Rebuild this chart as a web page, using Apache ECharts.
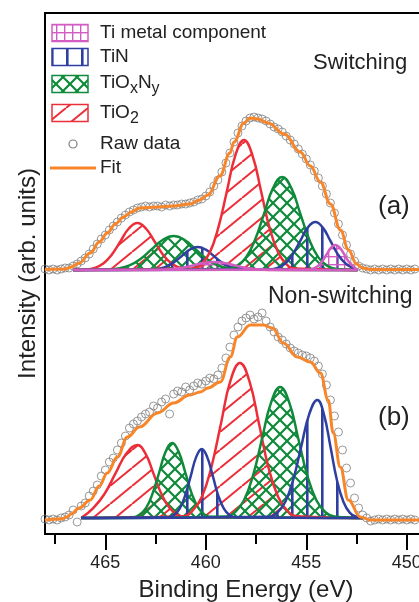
<!DOCTYPE html>
<html>
<head>
<meta charset="utf-8">
<script src="https://cdn.jsdelivr.net/npm/echarts@6/dist/echarts.min.js"></script>
<style>html,body{margin:0;padding:0;background:#fff;}#c{width:419px;height:602px;}</style>
</head>
<body>
<div id="c"></div>
<script>
// ---------- DATA ----------
const majorTicks = [450, 455, 460, 465];
const minorTicks = [452.5, 457.5, 462.5, 467.5];
const legendNames = ['Ti metal component', 'TiN', 'TiOxNy', 'TiO2', 'Raw data', 'Fit'];
const panelLabels = ['Switching', '(a)', 'Non-switching', '(b)'];

const rawEnergy = [468,467.8,467.6,467.4,467.2,467,466.8,466.6,466.4,466.2,466,465.8,465.6,465.4,465.2,465,464.8,464.6,464.4,464.2,464,463.8,463.6,463.4,463.2,463,462.8,462.6,462.4,462.2,462,461.8,461.6,461.4,461.2,461,460.8,460.6,460.4,460.2,460,459.8,459.6,459.4,459.2,459,458.8,458.6,458.4,458.2,458,457.8,457.6,457.4,457.2,457,456.8,456.6,456.4,456.2,456,455.8,455.6,455.4,455.2,455,454.8,454.6,454.4,454.2,454,453.8,453.6,453.4,453.2,453,452.8,452.6,452.4,452.2,452,451.8,451.6,451.4,451.2,451,450.8,450.6,450.4,450.2,450,449.8,449.6];
const rawA = [1,0,1,0,1,2,2,4,6,9, 12,16,21,26,31,35,40,44,48,52, 55,58,60,62,63,64,63,64,64,63, 65,64,65,65,66,66,67,68,70,71, 74,78,84,90,98,107,117,128,137,144, 149,152,153,152,151,149,146,143,141,138, 134,130,126,121,116,111,105,99,92,84, 76,67,57,46,35,25,16,9,4,2, 1,0,1,0,1,0,1,0,1,0, 1,0,1];
const rawB = [-1,-2,-1,-2,0,1,3,8,-4,12, 15,22,27,33,42,48,56,60,68,75, 82,90,94,97,101,104,106,112,110,116, 119,104,124,127,126,131,128,132,135,134, 137,140,139,143,150,160,171,183,191,197, 200,203,199,201,205,197,191,186,181,178, 174,170,167,165,163,162,160,157,152,144, 133,118,102,86,68,50,35,20,10,3, 0,-3,-2,-1,-2,-1,-2,-1,-2,-1, -2,-1,-2];

const fitA = [[468,0.5],[467,1],[466.7,3],[466.3,7],[465.75,17],[465.3,28],[464.9,37],[464.5,46],[464.1,53],[463.7,58],[463.3,62],[462.4,63],[461.6,64],[460.8,66],[460.3,70],[459.9,75],[459.3,94],[458.8,117],[458.6,128],[458.1,147],[457.8,152],[457.4,151],[456.9,147],[456.1,136],[455.3,118],[454.8,104],[454.3,88],[453.8,66],[453.3,40],[452.9,20],[452.5,6],[452.2,2],[451.8,0.5],[448,0.5]];
const fitB = [[468,-2],[467.2,-1],[466.9,1],[466.7,4],[466.3,10],[465.75,18],[465.3,32],[464.9,45],[464.4,61],[463.9,81],[463.3,91],[462.4,105],[461.6,115],[460.8,123],[460.27,126],[459.9,130],[459.28,136],[458.78,161],[458.43,181],[457.79,193],[457.14,193],[456.69,190],[456.14,175],[455.45,161],[454.8,156],[454.3,145],[453.91,118],[453.66,85],[453.31,51],[452.91,18],[452.31,1],[451.8,-2],[448,-2]];

// Panel (a) components
const tio2A1 = [[466.6,0],[465.95,0.5],[465.53,2.1],[465.1,6.4],[464.68,15.3],[464.25,28.5],[463.83,41.5],[463.4,47],[462.98,41.5],[462.55,28.5],[462.13,15.3],[461.7,6.4],[461.28,2.1],[460.85,0.5],[452.45,0]];
const tioxnyA1 = [[466.6,0],[464.9,0.4],[464.35,1.5],[463.8,4.6],[463.25,11],[462.7,20.6],[462.15,30],[461.6,34],[461.05,30],[460.5,20.6],[459.95,11],[459.4,4.6],[458.85,1.5],[458.3,0.4],[452.45,0]];
const tinA1 = [[466.6,0],[462.8,0.3],[462.4,1],[462,3.1],[461.6,7.5],[461.2,13.9],[460.8,20.3],[460.4,23],[460,20.3],[459.6,13.9],[459.2,7.5],[458.8,3.1],[458.4,1],[458,0.3],[452.45,0]];
const tiA1 = [[466.6,0],[462.6,0.1],[462.1,0.35],[461.6,1.1],[461.1,2.6],[460.6,4.9],[460.1,7.1],[459.6,8],[459.1,7.1],[458.6,4.9],[458.1,2.6],[457.6,1.1],[457.1,0.35],[456.6,0.1],[452.45,0]];
const tio2A2 = [[466.6,0],[460.65,1.4],[460.23,5.7],[459.8,17.6],[459.38,42.2],[458.95,78.8],[458.53,114.7],[458.1,130],[457.68,114.7],[457.25,78.8],[456.83,42.2],[456.4,17.6],[455.98,5.7],[455.55,1.4],[452.45,0]];
const tioxnyA2 = [[466.6,0],[458.9,1],[458.45,4.1],[458,12.6],[457.55,30.2],[457.1,56.4],[456.65,82.1],[456.2,93],[455.75,82.1],[455.3,56.4],[454.85,30.2],[454.4,12.6],[453.95,4.1],[453.5,1],[452.45,0]];
const tinA2 = [[466.6,0],[456.8,0.5],[456.43,2.1],[456.05,6.5],[455.68,15.6],[455.3,29.1],[454.93,42.4],[454.55,48],[454.18,42.4],[453.8,29.1],[453.43,15.6],[453.05,6.5],[452.68,2.1],[452.45,0]];
const tiA2 = [[466.6,0],[454.9,0.3],[454.68,1.1],[454.45,3.4],[454.23,8.1],[454,15.2],[453.78,22.1],[453.55,25],[453.33,22.1],[453.1,15.2],[452.88,8.1],[452.65,3.4],[452.45,0]];

// Panel (b) components
const tio2B1 = [[466.2,0],[465.6,9.9],[465.05,23.7],[464.5,44.3],[463.95,64.4],[463.4,73],[463,64.4],[462.6,44.3],[462.2,23.7],[461.8,9.9],[461.4,3.2],[461,0.8],[452.2,0]];
const tioxnyB1 = [[466.2,0],[463.62,0.8],[463.3,3.3],[462.97,10.1],[462.65,24.4],[462.32,45.5],[462,66.2],[461.67,75],[461.35,66.2],[461.02,45.5],[460.7,24.4],[460.37,10.1],[460.05,3.3],[459.72,0.8],[452.2,0]];
const tinB1 = [[466.2,0],[461.85,0.8],[461.58,3],[461.3,9.3],[461.03,22.4],[460.75,41.8],[460.48,60.9],[460.2,69],[459.93,60.9],[459.65,41.8],[459.38,22.4],[459.1,9.3],[458.83,3],[458.55,0.8],[452.2,0]];
const tio2B2 = [[466.2,0],[461.15,1.7],[460.68,6.8],[460.2,21],[459.73,50.3],[459.25,94],[458.78,136.8],[458.3,155],[457.83,136.8],[457.35,94],[456.88,50.3],[456.4,21],[455.93,6.8],[455.45,1.7],[452.2,0]];
const tioxnyB2 = [[466.2,0],[459,1.5],[458.55,5.8],[458.1,17.7],[457.65,42.5],[457.2,79.5],[456.75,115.6],[456.3,131],[455.85,115.6],[455.4,79.5],[454.95,42.5],[454.5,17.7],[454.05,5.8],[453.6,1.5],[452.2,0]];
const tinB2 = [[466.2,0],[456.85,1.3],[456.45,5.2],[456.05,16],[455.65,38.3],[455.25,71.6],[454.85,104.1],[454.45,118],[454.13,104.1],[453.8,71.6],[453.48,38.3],[453.15,16],[452.83,5.2],[452.5,1.3],[452.2,0]];

// ---------- STYLE ----------
const FONT = '"Liberation Sans", Arial, Helvetica, sans-serif';
const TXT = '#222';
const C = {red:'#ec2e38', green:'#0f8a3b', blue:'#2f3f9f', pink:'#d35cc2', orange:'#f7862a', gray:'#7e7e7e'};

function pattern(kind, color) {
  const c = document.createElement('canvas');
  let ctx;
  if (kind === 'diag') {
    c.width = 22; c.height = 18; ctx = c.getContext('2d');
    ctx.strokeStyle = color; ctx.lineWidth = 2; ctx.beginPath();
    [-22, 0, 22].forEach(function (dx) { ctx.moveTo(dx, 18); ctx.lineTo(dx + 22, 0); });
    ctx.stroke();
  } else if (kind === 'cross') {
    c.width = 14; c.height = 14; ctx = c.getContext('2d');
    ctx.strokeStyle = color; ctx.lineWidth = 2.2; ctx.beginPath();
    ctx.moveTo(0, 0); ctx.lineTo(14, 14); ctx.moveTo(0, 14); ctx.lineTo(14, 0);
    ctx.stroke();
  } else if (kind === 'vert') {
    c.width = 15; c.height = 4; ctx = c.getContext('2d');
    ctx.fillStyle = color; ctx.fillRect(6, 0, 2.6, 4);
  } else {
    c.width = 8; c.height = 8; ctx = c.getContext('2d');
    ctx.fillStyle = color; ctx.fillRect(0, 0, 8, 1.4); ctx.fillRect(0, 0, 1.4, 8);
  }
  return {image: c, repeat: 'repeat'};
}
const P = {
  red: pattern('diag', C.red),
  green: pattern('cross', C.green),
  blue: pattern('vert', C.blue),
  pink: pattern('grid', C.pink)
};

// panel 0 -> xAxis 2 / yAxis 1 ; panel 1 -> xAxis 3 / yAxis 2
function comp(data, col, p) {
  return {
    type: 'line', xAxisIndex: p + 2, yAxisIndex: p + 1, data: data,
    smooth: 0.45, showSymbol: false, silent: true,
    lineStyle: {color: C[col], width: 2.5},
    areaStyle: {color: P[col], opacity: 1}
  };
}
function raw(vals, p) {
  return {
    type: 'scatter', xAxisIndex: p + 2, yAxisIndex: p + 1,
    data: rawEnergy.map(function (e, i) { return [e, vals[i]]; }),
    symbol: 'circle', symbolSize: 8, silent: true,
    itemStyle: {color: 'rgba(255,255,255,0)', borderColor: C.gray, borderWidth: 1}
  };
}
function fit(data, p) {
  return {
    type: 'line', xAxisIndex: p + 2, yAxisIndex: p + 1, data: data,
    smooth: 0.4, smoothMonotone: 'x', showSymbol: false, silent: true,
    lineStyle: {color: C.orange, width: 3}
  };
}

const X0 = 45, W = 402;
function hiddenX(g) {
  return {gridIndex: g, type: 'value', min: 448, max: 468, inverse: true, show: false};
}

// text measuring for sub-scripted legend labels
const mctx = document.createElement('canvas').getContext('2d');
function tw(t, size) { mctx.font = size + 'px ' + FONT; return mctx.measureText(t).width; }

const graphics = [];
function txt(x, y, t, size) {
  graphics.push({type: 'text', x: x, y: y,
    style: {text: t, fontSize: size, fontFamily: FONT, fill: TXT, verticalAlign: 'middle'}});
}
function subText(x, y, parts) {
  let cx = x;
  parts.forEach(function (p) {
    const size = p[1] ? 16 : 19;
    txt(cx, p[1] ? y + 6 : y, p[0], size);
    cx += tw(p[0], size);
  });
}
const legendRows = [
  {y: 33, col: 'pink'}, {y: 57, col: 'blue'}, {y: 84, col: 'green'}, {y: 113, col: 'red'}
];
legendRows.forEach(function (r) {
  graphics.push({type: 'rect', shape: {x: 52, y: r.y - 8.5, width: 36, height: 17},
    style: {fill: P[r.col], stroke: C[r.col], lineWidth: 1.5}});
});
txt(100, 33, legendNames[0], 19);
txt(100, 57, legendNames[1], 19);
subText(100, 83, [['TiO', false], ['x', true], ['N', false], ['y', true]]);
subText(100, 113, [['TiO', false], ['2', true]]);
graphics.push({type: 'circle', shape: {cx: 73, cy: 144, r: 4}, style: {fill: 'none', stroke: C.gray, lineWidth: 1.2}});
txt(100, 144, legendNames[4], 19);
graphics.push({type: 'line', shape: {x1: 50, y1: 168, x2: 96, y2: 168}, style: {stroke: C.orange, lineWidth: 3}});
txt(100, 168, legendNames[5], 19);
txt(313, 63, panelLabels[0], 22);
txt(378, 207, panelLabels[1], 26);
txt(268, 297, panelLabels[2], 23);
txt(378, 418, panelLabels[3], 26);

const option = {
  animation: false,
  backgroundColor: '#fff',
  grid: [
    {left: X0, top: 13, width: W, height: 521, show: true, borderColor: '#000', borderWidth: 2,
     backgroundColor: 'transparent', outerBoundsMode: 'none', containLabel: false},
    {left: X0, top: 30, width: W, height: 255, outerBoundsMode: 'none', containLabel: false},
    {left: X0, top: 285, width: W, height: 248, outerBoundsMode: 'none', containLabel: false}
  ],
  xAxis: [
    {gridIndex: 0, type: 'value', min: 448, max: 468, inverse: true, position: 'bottom',
     axisLine: {show: true, lineStyle: {color: '#000', width: 2}},
     axisTick: {show: true, customValues: majorTicks, length: 16, lineStyle: {color: '#000', width: 2}},
     axisLabel: {show: true, customValues: majorTicks, fontSize: 18, fontFamily: FONT, color: TXT, margin: 20},
     splitLine: {show: false},
     name: 'Binding Energy (eV)', nameLocation: 'middle', nameGap: 44,
     nameTextStyle: {fontSize: 24, fontFamily: FONT, color: TXT}},
    {gridIndex: 0, type: 'value', min: 448, max: 468, inverse: true, position: 'bottom',
     axisLine: {show: false},
     axisTick: {show: true, customValues: minorTicks, length: 10, lineStyle: {color: '#000', width: 2}},
     axisLabel: {show: false}, splitLine: {show: false}},
    hiddenX(1), hiddenX(2)
  ],
  yAxis: [
    {gridIndex: 0, type: 'value', min: 0, max: 1, axisLine: {show: false}, axisTick: {show: false},
     axisLabel: {show: false}, splitLine: {show: false},
     name: 'Intensity (arb. units)', nameLocation: 'middle', nameGap: 5, nameRotate: 90,
     nameTextStyle: {fontSize: 24, fontFamily: FONT, color: TXT}},
    {gridIndex: 1, type: 'value', min: -15, max: 240, show: false},
    {gridIndex: 2, type: 'value', min: -15, max: 233, show: false}
  ],
  graphic: graphics,
  series: [
    comp(tio2A1, 'red', 0), comp(tioxnyA1, 'green', 0), comp(tinA1, 'blue', 0),
    comp(tio2A2, 'red', 0), comp(tioxnyA2, 'green', 0), comp(tinA2, 'blue', 0),
    comp(tiA1, 'pink', 0), comp(tiA2, 'pink', 0),
    raw(rawA, 0), fit(fitA, 0),
    comp(tio2B1, 'red', 1), comp(tioxnyB1, 'green', 1), comp(tio2B2, 'red', 1),
    comp(tioxnyB2, 'green', 1), comp(tinB1, 'blue', 1), comp(tinB2, 'blue', 1),
    raw(rawB, 1), fit(fitB, 1)
  ]
};
const chart = echarts.init(document.getElementById('c'), null, {renderer: 'canvas'});
chart.setOption(option);
</script>
</body>
</html>
